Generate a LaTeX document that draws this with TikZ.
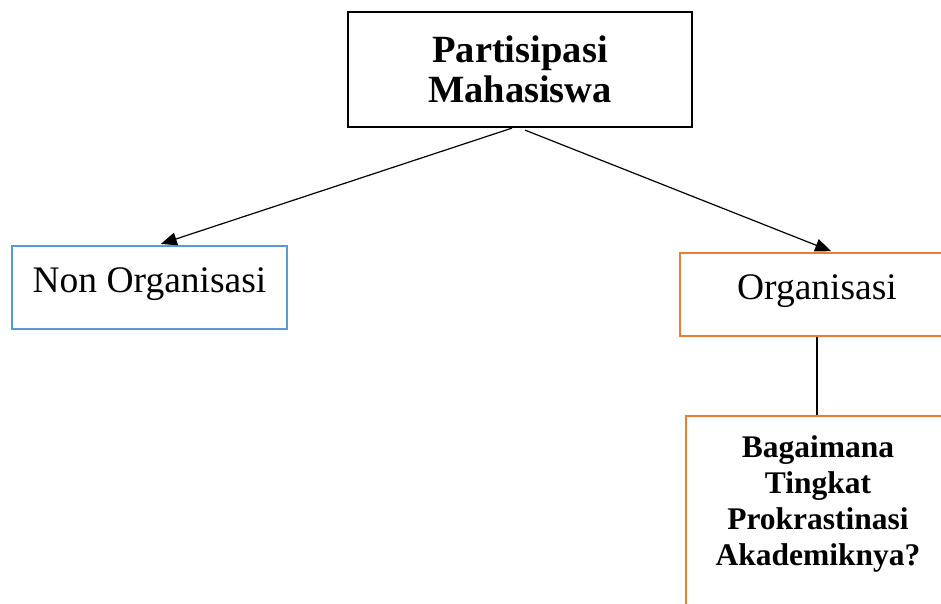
\documentclass[tikz,border=0pt]{standalone}
\usepackage{fontspec}
\setmainfont{Liberation Serif}
\usetikzlibrary{arrows.meta}
\definecolor{boxblue}{HTML}{5B9BD5}
\definecolor{boxorange}{HTML}{ED7D31}
\begin{document}
\begin{tikzpicture}[x=1pt,y=-1pt,
  frame/.style={draw,line width=2.2pt,rectangle,inner sep=0pt},
  conn/.style={line width=1.2pt,-{Triangle[length=16pt,width=13pt]}},
  plain/.style={line width=1.2pt}]
\useasboundingbox (0,0) rectangle (941,603);
\clip (0,0) rectangle (941,603);
\fill[white] (0,0) rectangle (941,603);
\node[frame,draw=black,minimum width=344pt,minimum height=115pt,align=center,
  font=\fontsize{38.5}{40}\selectfont\bfseries] (top) at (520,69.5) {Partisipasi\\Mahasiswa};
\node[frame,draw=boxblue,minimum width=275pt,minimum height=83pt,
  text height=26pt,text depth=17pt,font=\fontsize{37.5}{40}\selectfont] (non) at (149.5,287.5) {Non Organisasi};
\node[frame,draw=boxorange,minimum width=274pt,minimum height=83pt,
  text height=26pt,text depth=17pt,font=\fontsize{37.5}{40}\selectfont] (org) at (817,294.5) {Organisasi};
\node[frame,draw=boxorange,minimum width=266pt,minimum height=300pt,anchor=north west] (q) at (685,415) {};
\node[align=center,inner sep=0pt,font=\fontsize{31.5}{36}\selectfont\bfseries] (qt) at (818,504)
  {Bagaimana\\Tingkat\\Prokrastinasi\\Akademiknya?};
\draw[conn,shorten >=3pt] ([xshift=-8pt]top.south) -- ([xshift=8.5pt]non.north);
\draw[conn,shorten >=2pt] ([xshift=5pt,yshift=-2pt]top.south) -- ([xshift=16pt]org.north);
\draw[plain] (org.south) -- (org.south |- q.north);
\end{tikzpicture}
\end{document}
